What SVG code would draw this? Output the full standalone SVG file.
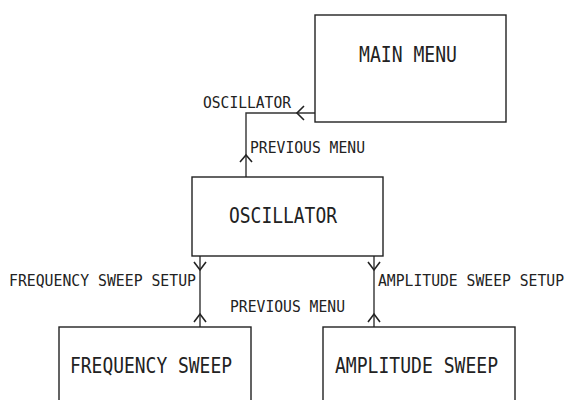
<svg xmlns="http://www.w3.org/2000/svg" width="569" height="400" viewBox="0 0 569 400">
<style>
.box{fill:#fff;stroke:#222;stroke-width:1.4}
.ln{fill:none;stroke:#333;stroke-width:1.4}
.ah{fill:none;stroke:#222;stroke-width:1.6}
.nt{font-family:"DejaVu Sans Mono","Liberation Mono",monospace;font-size:21px;fill:#222}
.lb{font-family:"DejaVu Sans Mono","Liberation Mono",monospace;font-size:15px;fill:#222}
</style>
<rect width="569" height="400" fill="#fff"/>
<g id="connectors">
<path class="ln" d="M315,113 H246 V177"/>
<path class="ah" d="M304,106 L297,113 L304,120"/>
<path class="ah" d="M240,162 L246,155 L252,162"/>
<line class="ln" x1="200" y1="256" x2="200" y2="327"/>
<line class="ln" x1="374" y1="256" x2="374" y2="327"/>
<path class="ah" d="M194,262 L200,270 L206,262"/>
<path class="ah" d="M368,262 L374,270 L380,262"/>
<path class="ah" d="M194,322 L200,314 L206,322"/>
<path class="ah" d="M368,322 L374,314 L380,322"/>
<text class="lb" x="203" y="108" textLength="88" lengthAdjust="spacingAndGlyphs">OSCILLATOR</text>
<text class="lb" x="250" y="153" textLength="115" lengthAdjust="spacingAndGlyphs">PREVIOUS MENU</text>
<text class="lb" x="9" y="286" textLength="187" lengthAdjust="spacingAndGlyphs">FREQUENCY SWEEP SETUP</text>
<text class="lb" x="378" y="286" textLength="186" lengthAdjust="spacingAndGlyphs">AMPLITUDE SWEEP SETUP</text>
<text class="lb" x="230" y="312" textLength="115" lengthAdjust="spacingAndGlyphs">PREVIOUS MENU</text>
</g>
<g id="main-menu">
<rect class="box" x="315" y="15" width="191" height="107"/>
<text class="nt" x="359" y="62" textLength="98" lengthAdjust="spacingAndGlyphs">MAIN MENU</text>
</g>
<g id="oscillator">
<rect class="box" x="192" y="177" width="191" height="79"/>
<text class="nt" x="229" y="223" textLength="108" lengthAdjust="spacingAndGlyphs">OSCILLATOR</text>
</g>
<g id="frequency-sweep">
<rect class="box" x="59" y="327" width="192" height="90"/>
<text class="nt" x="70" y="373" textLength="162" lengthAdjust="spacingAndGlyphs">FREQUENCY SWEEP</text>
</g>
<g id="amplitude-sweep">
<rect class="box" x="323" y="327" width="192" height="90"/>
<text class="nt" x="335" y="373" textLength="163" lengthAdjust="spacingAndGlyphs">AMPLITUDE SWEEP</text>
</g>
</svg>
